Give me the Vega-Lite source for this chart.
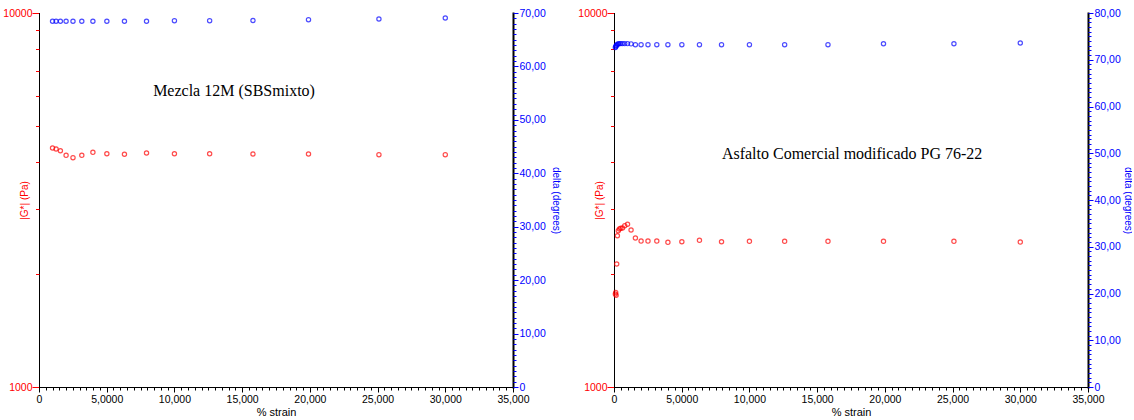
{
  "$schema": "https://vega.github.io/schema/vega-lite/v6.json",
  "padding": {"left": 2, "top": 8, "right": 0, "bottom": 0},
  "spacing": 17,
  "background": "white",
  "config": {
    "view": {"stroke": null},
    "axis": {"labelFont": "Liberation Sans", "titleFont": "Liberation Sans", "labelFontSize": 10.5, "titleFontWeight": "normal", "grid": false, "labelFlush": false, "labelOverlap": false, "domainColor": "#000000", "domainCap": "square"}
  },
  "datasets": {
    "m12": [
      {"strain": 1.0, "G": 4355, "delta": 68.45},
      {"strain": 1.26, "G": 4328, "delta": 68.45},
      {"strain": 1.58, "G": 4283, "delta": 68.45},
      {"strain": 2.0, "G": 4164, "delta": 68.45},
      {"strain": 2.51, "G": 4103, "delta": 68.45},
      {"strain": 3.16, "G": 4164, "delta": 68.45},
      {"strain": 3.98, "G": 4241, "delta": 68.45},
      {"strain": 5.01, "G": 4205, "delta": 68.45},
      {"strain": 6.31, "G": 4190, "delta": 68.45},
      {"strain": 7.94, "G": 4224, "delta": 68.45},
      {"strain": 10.0, "G": 4205, "delta": 68.56},
      {"strain": 12.6, "G": 4205, "delta": 68.56},
      {"strain": 15.8, "G": 4198, "delta": 68.6},
      {"strain": 19.9, "G": 4198, "delta": 68.75},
      {"strain": 25.1, "G": 4180, "delta": 68.88},
      {"strain": 30.0, "G": 4180, "delta": 69.06}
    ],
    "pg": [
      {"strain": 0.1, "G": 1773, "delta": 72.6},
      {"strain": 0.126, "G": 1790, "delta": 72.8},
      {"strain": 0.158, "G": 1760, "delta": 73.0},
      {"strain": 0.2, "G": 2133, "delta": 73.1},
      {"strain": 0.251, "G": 2538, "delta": 73.3},
      {"strain": 0.316, "G": 2618, "delta": 73.4},
      {"strain": 0.398, "G": 2646, "delta": 73.45},
      {"strain": 0.501, "G": 2657, "delta": 73.45},
      {"strain": 0.631, "G": 2662, "delta": 73.45},
      {"strain": 0.794, "G": 2700, "delta": 73.45},
      {"strain": 1.0, "G": 2723, "delta": 73.45},
      {"strain": 1.26, "G": 2629, "delta": 73.4},
      {"strain": 1.58, "G": 2502, "delta": 73.22},
      {"strain": 2.0, "G": 2456, "delta": 73.22},
      {"strain": 2.51, "G": 2456, "delta": 73.22},
      {"strain": 3.16, "G": 2456, "delta": 73.22},
      {"strain": 3.98, "G": 2437, "delta": 73.22},
      {"strain": 5.01, "G": 2446, "delta": 73.22},
      {"strain": 6.31, "G": 2467, "delta": 73.22},
      {"strain": 7.94, "G": 2446, "delta": 73.22},
      {"strain": 10.0, "G": 2452, "delta": 73.22},
      {"strain": 12.6, "G": 2452, "delta": 73.22},
      {"strain": 15.8, "G": 2452, "delta": 73.22},
      {"strain": 19.9, "G": 2452, "delta": 73.43},
      {"strain": 25.1, "G": 2452, "delta": 73.43},
      {"strain": 30.0, "G": 2441, "delta": 73.58}
    ],
    "note1": [{"strain": 14.4, "G": 6185, "label": "Mezcla 12M (SBSmixto)"}],
    "note2": [{"strain": 17.58, "G": 4198, "label": "Asfalto Comercial modificado PG 76-22"}]
  },
  "hconcat": [
    {
      "width": 474,
      "height": 374,
      "layer": [
        {
          "data": {"name": "m12"},
          "mark": {"type": "point", "shape": "circle", "filled": false, "color": "#ff0000", "size": 18, "strokeWidth": 1.2},
          "encoding": {
            "x": {"field": "strain", "type": "quantitative", "scale": {"domain": [0, 35], "nice": false, "zero": false},
              "axis": {"orient": "bottom", "values": [0, 5, 10, 15, 20, 25, 30, 35], "tickSize": 5, "tickColor": "#000000", "labelColor": "#000000", "labelPadding": 2,
                "labelExpr": "datum.value == 0 ? '0' : datum.value == 5 ? '5,0000' : replace(format(datum.value, '.3f'), '.', ',')",
                "title": "% strain", "titleFontSize": 11, "titleColor": "#000000", "titlePadding": 2}},
            "y": {"field": "G", "type": "quantitative", "scale": {"type": "log", "domain": [1000, 10000], "nice": false},
              "axis": {"orient": "left", "values": [1000, 10000], "format": "d", "tickSize": 7, "tickColor": "#ff0000", "labelColor": "#ff0000", "labelPadding": 0,
                "title": "|G*| (Pa)", "titleColor": "#ff0000", "titleFontSize": 10, "titleX": -15, "titleY": 187, "titleAngle": -90, "titleAlign": "center", "titleBaseline": "middle"}}
          }
        },
        {
          "data": {"name": "m12"},
          "mark": {"type": "point", "opacity": 0},
          "encoding": {
            "x": {"field": "strain", "type": "quantitative", "scale": {"domain": [0, 35], "nice": false, "zero": false},
              "axis": {"orient": "bottom", "tickCount": 70, "labels": false, "domain": false, "tickSize": 3, "tickColor": "#000000", "title": null}},
            "y": {"field": "G", "type": "quantitative", "scale": {"type": "log", "domain": [1000, 10000], "nice": false},
              "axis": {"orient": "left", "values": [2000, 3000, 4000, 5000, 6000, 7000, 8000, 9000], "labels": false, "domain": false, "tickSize": 3.5, "tickColor": "#ff0000", "title": null}}
          }
        },
        {
          "data": {"name": "m12"},
          "mark": {"type": "point", "shape": "circle", "filled": false, "color": "#0000ff", "size": 18, "strokeWidth": 1.2},
          "encoding": {
            "x": {"field": "strain", "type": "quantitative", "scale": {"domain": [0, 35], "nice": false, "zero": false}, "axis": null},
            "y": {"field": "delta", "type": "quantitative", "scale": {"domain": [0, 70], "nice": false, "zero": false},
              "axis": {"orient": "right", "values": [0, 10, 20, 30, 40, 50, 60, 70], "tickSize": 5, "tickColor": "#0000ff", "labelColor": "#0000ff", "labelPadding": 1, "domainWidth": 2,
                "labelExpr": "datum.value == 0 ? '0' : replace(format(datum.value, '.2f'), '.', ',')",
                "title": "delta (degrees)", "titleColor": "#0000ff", "titleFontSize": 10, "titleX": 42, "titleY": 187, "titleAngle": 90, "titleAlign": "center", "titleBaseline": "middle"}}
          }
        },
        {
          "data": {"name": "m12"},
          "mark": {"type": "point", "opacity": 0},
          "encoding": {
            "x": {"field": "strain", "type": "quantitative", "scale": {"domain": [0, 35], "nice": false, "zero": false}, "axis": null},
            "y": {"field": "delta", "type": "quantitative", "scale": {"domain": [0, 70], "nice": false, "zero": false},
              "axis": {"orient": "right", "tickCount": 70, "labels": false, "domain": false, "tickSize": 3, "tickColor": "#0000ff", "title": null}}
          }
        },
        {
          "data": {"name": "note1"},
          "mark": {"type": "text", "font": "Liberation Serif", "fontSize": 16, "color": "#000000", "align": "center", "baseline": "middle"},
          "encoding": {
            "x": {"field": "strain", "type": "quantitative", "scale": {"domain": [0, 35], "nice": false, "zero": false}, "axis": null},
            "y": {"field": "G", "type": "quantitative", "scale": {"type": "log", "domain": [1000, 10000], "nice": false}, "axis": null},
            "text": {"field": "label"}
          }
        }
      ],
      "resolve": {"scale": {"y": "independent"}, "axis": {"x": "independent", "y": "independent"}}
    },
    {
      "width": 474,
      "height": 374,
      "layer": [
        {
          "data": {"name": "pg"},
          "mark": {"type": "point", "shape": "circle", "filled": false, "color": "#ff0000", "size": 18, "strokeWidth": 1.2},
          "encoding": {
            "x": {"field": "strain", "type": "quantitative", "scale": {"domain": [0, 35], "nice": false, "zero": false},
              "axis": {"orient": "bottom", "values": [0, 5, 10, 15, 20, 25, 30, 35], "tickSize": 5, "tickColor": "#000000", "labelColor": "#000000", "labelPadding": 2,
                "labelExpr": "datum.value == 0 ? '0' : datum.value == 5 ? '5,0000' : replace(format(datum.value, '.3f'), '.', ',')",
                "title": "% strain", "titleFontSize": 11, "titleColor": "#000000", "titlePadding": 2}},
            "y": {"field": "G", "type": "quantitative", "scale": {"type": "log", "domain": [1000, 10000], "nice": false},
              "axis": {"orient": "left", "values": [1000, 10000], "format": "d", "tickSize": 7, "tickColor": "#ff0000", "labelColor": "#ff0000", "labelPadding": 0,
                "title": "|G*| (Pa)", "titleColor": "#ff0000", "titleFontSize": 10, "titleX": -15, "titleY": 187, "titleAngle": -90, "titleAlign": "center", "titleBaseline": "middle"}}
          }
        },
        {
          "data": {"name": "pg"},
          "mark": {"type": "point", "opacity": 0},
          "encoding": {
            "x": {"field": "strain", "type": "quantitative", "scale": {"domain": [0, 35], "nice": false, "zero": false},
              "axis": {"orient": "bottom", "tickCount": 70, "labels": false, "domain": false, "tickSize": 3, "tickColor": "#000000", "title": null}},
            "y": {"field": "G", "type": "quantitative", "scale": {"type": "log", "domain": [1000, 10000], "nice": false},
              "axis": {"orient": "left", "values": [2000, 3000, 4000, 5000, 6000, 7000, 8000, 9000], "labels": false, "domain": false, "tickSize": 3.5, "tickColor": "#ff0000", "title": null}}
          }
        },
        {
          "data": {"name": "pg"},
          "mark": {"type": "point", "shape": "circle", "filled": false, "color": "#0000ff", "size": 18, "strokeWidth": 1.2},
          "encoding": {
            "x": {"field": "strain", "type": "quantitative", "scale": {"domain": [0, 35], "nice": false, "zero": false}, "axis": null},
            "y": {"field": "delta", "type": "quantitative", "scale": {"domain": [0, 80], "nice": false, "zero": false},
              "axis": {"orient": "right", "values": [0, 10, 20, 30, 40, 50, 60, 70, 80], "tickSize": 5, "tickColor": "#0000ff", "labelColor": "#0000ff", "labelPadding": 1, "domainWidth": 2,
                "labelExpr": "datum.value == 0 ? '0' : replace(format(datum.value, '.2f'), '.', ',')",
                "title": "delta (degrees)", "titleColor": "#0000ff", "titleFontSize": 10, "titleX": 39, "titleY": 187, "titleAngle": 90, "titleAlign": "center", "titleBaseline": "middle"}}
          }
        },
        {
          "data": {"name": "pg"},
          "mark": {"type": "point", "opacity": 0},
          "encoding": {
            "x": {"field": "strain", "type": "quantitative", "scale": {"domain": [0, 35], "nice": false, "zero": false}, "axis": null},
            "y": {"field": "delta", "type": "quantitative", "scale": {"domain": [0, 80], "nice": false, "zero": false},
              "axis": {"orient": "right", "tickCount": 80, "labels": false, "domain": false, "tickSize": 3, "tickColor": "#0000ff", "title": null}}
          }
        },
        {
          "data": {"name": "note2"},
          "mark": {"type": "text", "font": "Liberation Serif", "fontSize": 16, "color": "#000000", "align": "center", "baseline": "middle"},
          "encoding": {
            "x": {"field": "strain", "type": "quantitative", "scale": {"domain": [0, 35], "nice": false, "zero": false}, "axis": null},
            "y": {"field": "G", "type": "quantitative", "scale": {"type": "log", "domain": [1000, 10000], "nice": false}, "axis": null},
            "text": {"field": "label"}
          }
        }
      ],
      "resolve": {"scale": {"y": "independent"}, "axis": {"x": "independent", "y": "independent"}}
    }
  ]
}
